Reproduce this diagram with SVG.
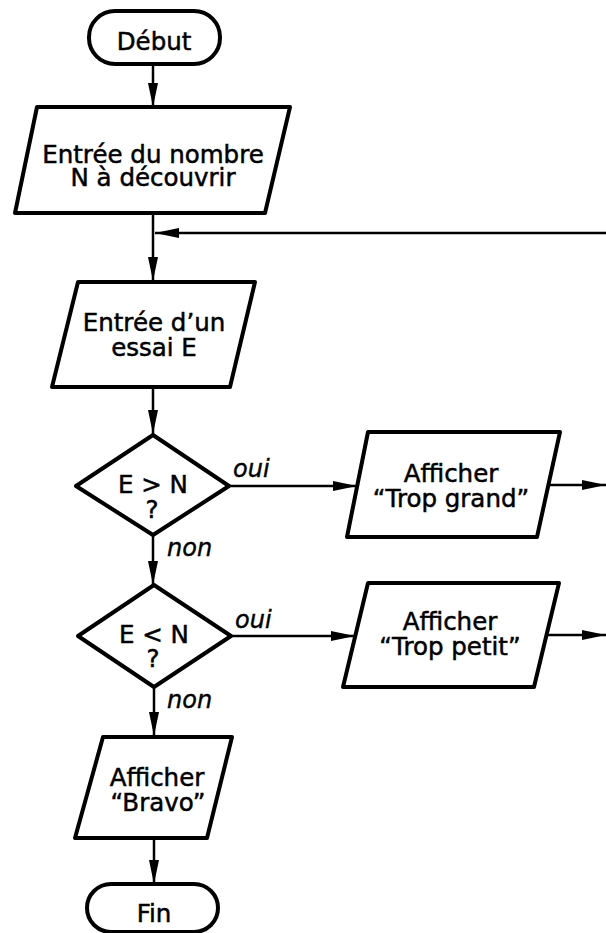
<svg xmlns="http://www.w3.org/2000/svg" width="606" height="933" viewBox="0 0 606 933">
<style>
.box{fill:#fff;stroke:#000;stroke-width:4;stroke-linejoin:round}
.t{font-family:"DejaVu Sans","Liberation Sans",sans-serif;font-size:24.5px;text-anchor:middle;fill:#000;stroke:#000;stroke-width:0.5}
.lbl{font-family:"DejaVu Sans","Liberation Sans",sans-serif;font-size:24px;font-style:italic;fill:#000;stroke:#000;stroke-width:0.4}
.c{fill:none;stroke:#000;stroke-width:2.5}
</style>
<defs>
<marker id="ah" viewBox="0 0 24 10" refX="24" refY="5" markerWidth="24" markerHeight="10" markerUnits="userSpaceOnUse" orient="auto">
<path d="M0,0 L24,5 L0,10 z" fill="#000"/>
</marker>
</defs>
<rect width="606" height="933" fill="#fff"/>
<g id="connectors">
<line class="c" x1="153" y1="64" x2="153" y2="107" marker-end="url(#ah)"/>
<line class="c" x1="153" y1="213" x2="153" y2="281" marker-end="url(#ah)"/>
<line class="c" x1="606" y1="233" x2="155" y2="233" marker-end="url(#ah)"/>
<line class="c" x1="153" y1="387" x2="153" y2="434" marker-end="url(#ah)"/>
<line class="c" x1="229" y1="486" x2="357" y2="486" marker-end="url(#ah)"/>
<line class="c" x1="548" y1="485" x2="606" y2="485" marker-end="url(#ah)"/>
<line class="c" x1="153" y1="535" x2="153" y2="585" marker-end="url(#ah)"/>
<line class="c" x1="231" y1="636" x2="355" y2="636" marker-end="url(#ah)"/>
<line class="c" x1="546" y1="635" x2="606" y2="635" marker-end="url(#ah)"/>
<line class="c" x1="154" y1="687" x2="154" y2="736" marker-end="url(#ah)"/>
<line class="c" x1="154" y1="838" x2="154" y2="884" marker-end="url(#ah)"/>
<text class="lbl" x="233" y="477">oui</text>
<text class="lbl" x="167" y="556">non</text>
<text class="lbl" x="235" y="628">oui</text>
<text class="lbl" x="167" y="708">non</text>
</g>
<g id="debut">
<rect class="box" x="89" y="11" width="131" height="53" rx="26"/>
<text class="t" x="154" y="50">Début</text>
</g>
<g id="entree-n">
<polygon class="box" points="37,107 290,107 265,213 15,213"/>
<text class="t" x="153" y="163">Entrée du nombre</text>
<text class="t" x="153" y="186">N à découvrir</text>
</g>
<g id="entree-e">
<polygon class="box" points="78,282 255,282 230,387 52,387"/>
<text class="t" x="154" y="331">Entrée d’un</text>
<text class="t" x="154" y="356">essai E</text>
</g>
<g id="test-sup">
<polygon class="box" points="153,435 229,486 153,535 76,486"/>
<text class="t" x="153" y="493">E &gt; N</text>
<text class="t" x="152" y="518">?</text>
</g>
<g id="trop-grand">
<polygon class="box" points="368,432 560,432 537,537 347,537"/>
<text class="t" x="451" y="482">Afficher</text>
<text class="t" x="451" y="507">“Trop grand”</text>
</g>
<g id="test-inf">
<polygon class="box" points="154,585 231,636 154,687 78,636"/>
<text class="t" x="154" y="643">E &lt; N</text>
<text class="t" x="153" y="667">?</text>
</g>
<g id="trop-petit">
<polygon class="box" points="368,583 559,583 534,687 343,687"/>
<text class="t" x="450" y="630">Afficher</text>
<text class="t" x="450" y="655">“Trop petit”</text>
</g>
<g id="bravo">
<polygon class="box" points="103,737 232,737 207,838 75,838"/>
<text class="t" x="157" y="786">Afficher</text>
<text class="t" x="158" y="811">“Bravo”</text>
</g>
<g id="fin">
<rect class="box" x="87" y="884" width="131" height="48" rx="24"/>
<text class="t" x="154" y="922">Fin</text>
</g>
</svg>
